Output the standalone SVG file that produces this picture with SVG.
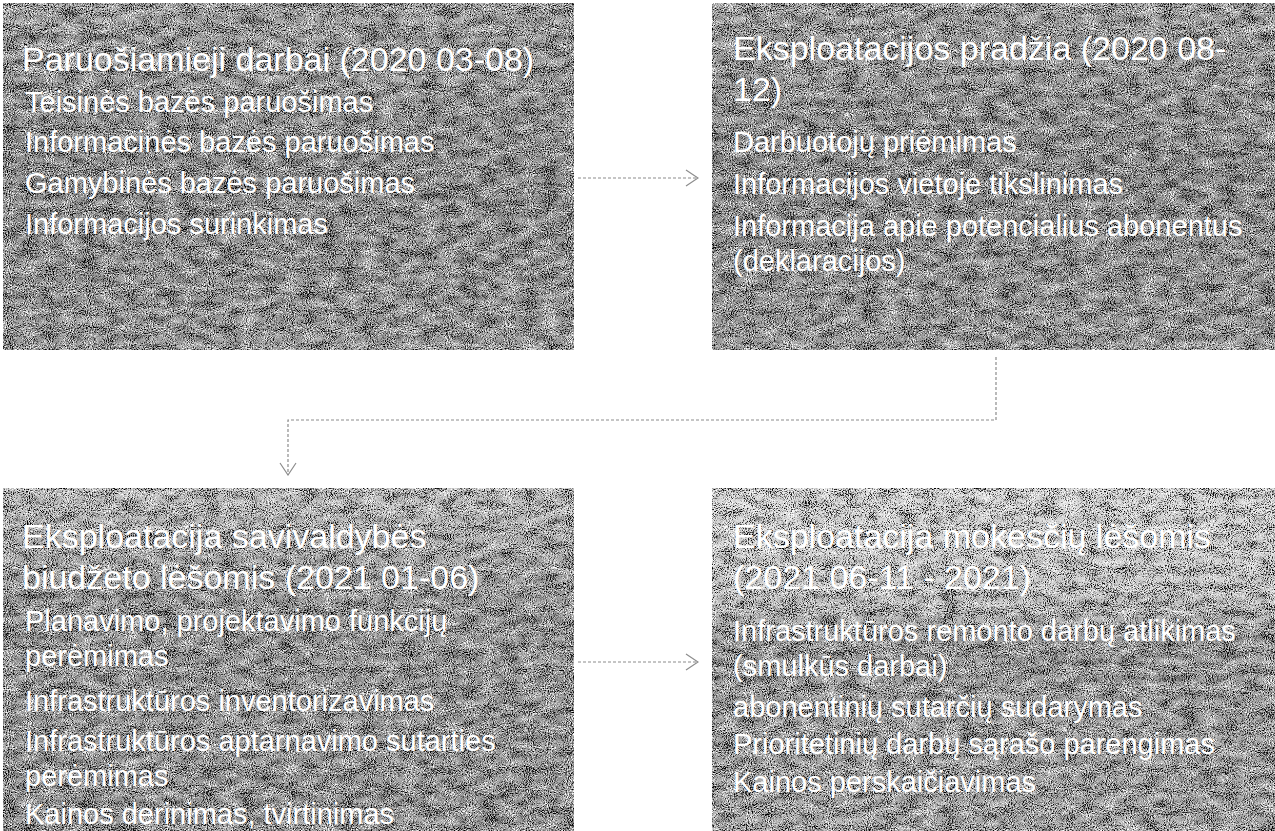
<svg xmlns="http://www.w3.org/2000/svg" width="1275" height="831" viewBox="0 0 1275 831">
  <defs>
    <style>
      .box { stroke: none; }
      .t { font-family: "Liberation Sans", Arial, sans-serif; fill: #ffffff; }
      .title { font-size: 34px; }
      .item { font-size: 29px; }
      .conn { fill: none; stroke: #8c8c8c; stroke-width: 1.2; stroke-dasharray: 3 2; }
    </style>
    <linearGradient id="gTop" x1="0" y1="0" x2="0" y2="1">
      <stop offset="0" stop-color="#a2a2a2"/>
      <stop offset="0.5" stop-color="#919191"/>
      <stop offset="1" stop-color="#9e9e9e"/>
    </linearGradient>
    <linearGradient id="gB3" x1="0" y1="0" x2="0" y2="1">
      <stop offset="0" stop-color="#c2c2c2"/>
      <stop offset="0.35" stop-color="#9c9c9c"/>
      <stop offset="1" stop-color="#9a9a9a"/>
    </linearGradient>
    <linearGradient id="gB4" x1="0" y1="0" x2="0" y2="1">
      <stop offset="0" stop-color="#d8d8d8"/>
      <stop offset="0.3" stop-color="#c8c8c8"/>
      <stop offset="0.45" stop-color="#9e9e9e"/>
      <stop offset="1" stop-color="#a8a8a8"/>
    </linearGradient>
    <filter id="grain" x="0" y="0" width="1" height="1" color-interpolation-filters="sRGB">
      <feTurbulence type="fractalNoise" baseFrequency="0.95" numOctaves="2" seed="4" result="f0"/>
      <feColorMatrix in="f0" type="matrix" values="1 0 0 0 0  1 0 0 0 0  1 0 0 0 0  0 0 0 0 1" result="f"/>
      <feTurbulence type="fractalNoise" baseFrequency="0.05 0.12" numOctaves="2" seed="9" result="c0"/>
      <feColorMatrix in="c0" type="matrix" values="1 0 0 0 0  1 0 0 0 0  1 0 0 0 0  0 0 0 0 1" result="c"/>
      <feComposite in="f" in2="c" operator="arithmetic" k1="0" k2="0.75" k3="0.25" k4="0" result="s"/>
      <feColorMatrix in="s" type="matrix" values="0 0 0 0 0  0 0 0 0 0  0 0 0 0 0  -5 0 0 0 2.5" result="dark"/>
      <feColorMatrix in="s" type="matrix" values="0 0 0 0 1  0 0 0 0 1  0 0 0 0 1  5 0 0 0 -2.6" result="light"/>
      <feMerge>
        <feMergeNode in="dark"/>
        <feMergeNode in="light"/>
      </feMerge>
    </filter>
    <marker id="arrow" viewBox="0 0 14 18" markerWidth="14" markerHeight="18" refX="13" refY="9" orient="auto" markerUnits="userSpaceOnUse">
      <path d="M1,1 L13,9 L1,17" fill="none" stroke="#8c8c8c" stroke-width="1.2"/>
    </marker>
  </defs>

  <rect x="0" y="0" width="1275" height="831" fill="#ffffff"/>

  <g id="connectors">
    <path class="conn" d="M578,178 L698,178" marker-end="url(#arrow)"/>
    <path class="conn" d="M996,357 L996,420 L288,420 L288,475" marker-end="url(#arrow)"/>
    <path class="conn" d="M578,662 L698,662" marker-end="url(#arrow)"/>
  </g>

  <g id="node1">
    <rect class="box" x="3" y="3" width="571" height="347" fill="url(#gTop)"/>
    <rect x="3" y="3" width="571" height="347" fill="#000" filter="url(#grain)"/>
    <text class="t title" x="22" y="71">Paruošiamieji darbai (2020 03-08)</text>
    <text class="t item" x="25" y="112">Teisinės bazės paruošimas</text>
    <text class="t item" x="25" y="152">Informacinės bazės paruošimas</text>
    <text class="t item" x="25" y="193">Gamybinės bazės paruošimas</text>
    <text class="t item" x="25" y="234">Informacijos surinkimas</text>
  </g>

  <g id="node2">
    <rect class="box" x="712" y="3" width="563" height="347" fill="url(#gTop)"/>
    <rect x="712" y="3" width="563" height="347" fill="#000" filter="url(#grain)"/>
    <text class="t title" x="733" y="60">Eksploatacijos pradžia (2020 08-<tspan x="733" y="101">12)</tspan></text>
    <text class="t item" x="733" y="152">Darbuotojų priėmimas</text>
    <text class="t item" x="733" y="194">Informacijos vietoje tikslinimas</text>
    <text class="t item" x="733" y="236">Informacija apie potencialius abonentus<tspan x="733" y="271">(deklaracijos)</tspan></text>
  </g>

  <g id="node3">
    <rect class="box" x="3" y="488" width="571" height="343" fill="url(#gB3)"/>
    <rect x="3" y="488" width="571" height="343" fill="#000" filter="url(#grain)"/>
    <text class="t title" x="22" y="548">Eksploatacija savivaldybės<tspan x="22" y="589">biudžeto lėšomis (2021 01-06)</tspan></text>
    <text class="t item" x="25" y="631">Planavimo, projektavimo funkcijų<tspan x="25" y="666">perėmimas</tspan></text>
    <text class="t item" x="25" y="711">Infrastruktūros inventorizavimas</text>
    <text class="t item" x="25" y="751">Infrastruktūros aptarnavimo sutarties<tspan x="25" y="786">perėmimas</tspan></text>
    <text class="t item" x="25" y="824">Kainos derinimas, tvirtinimas</text>
  </g>

  <g id="node4">
    <rect class="box" x="712" y="488" width="563" height="343" fill="url(#gB4)"/>
    <rect x="712" y="488" width="563" height="343" fill="#000" filter="url(#grain)"/>
    <text class="t title" x="733" y="548">Eksploatacija mokesčių lėšomis<tspan x="733" y="589">(2021 06-11 - 2021)</tspan></text>
    <text class="t item" x="733" y="641">Infrastruktūros remonto darbų atlikimas<tspan x="733" y="676">(smulkūs darbai)</tspan></text>
    <text class="t item" x="733" y="717">abonentinių sutarčių sudarymas</text>
    <text class="t item" x="733" y="754">Prioritetinių darbų sąrašo parengimas</text>
    <text class="t item" x="733" y="792">Kainos perskaičiavimas</text>
  </g>
</svg>
